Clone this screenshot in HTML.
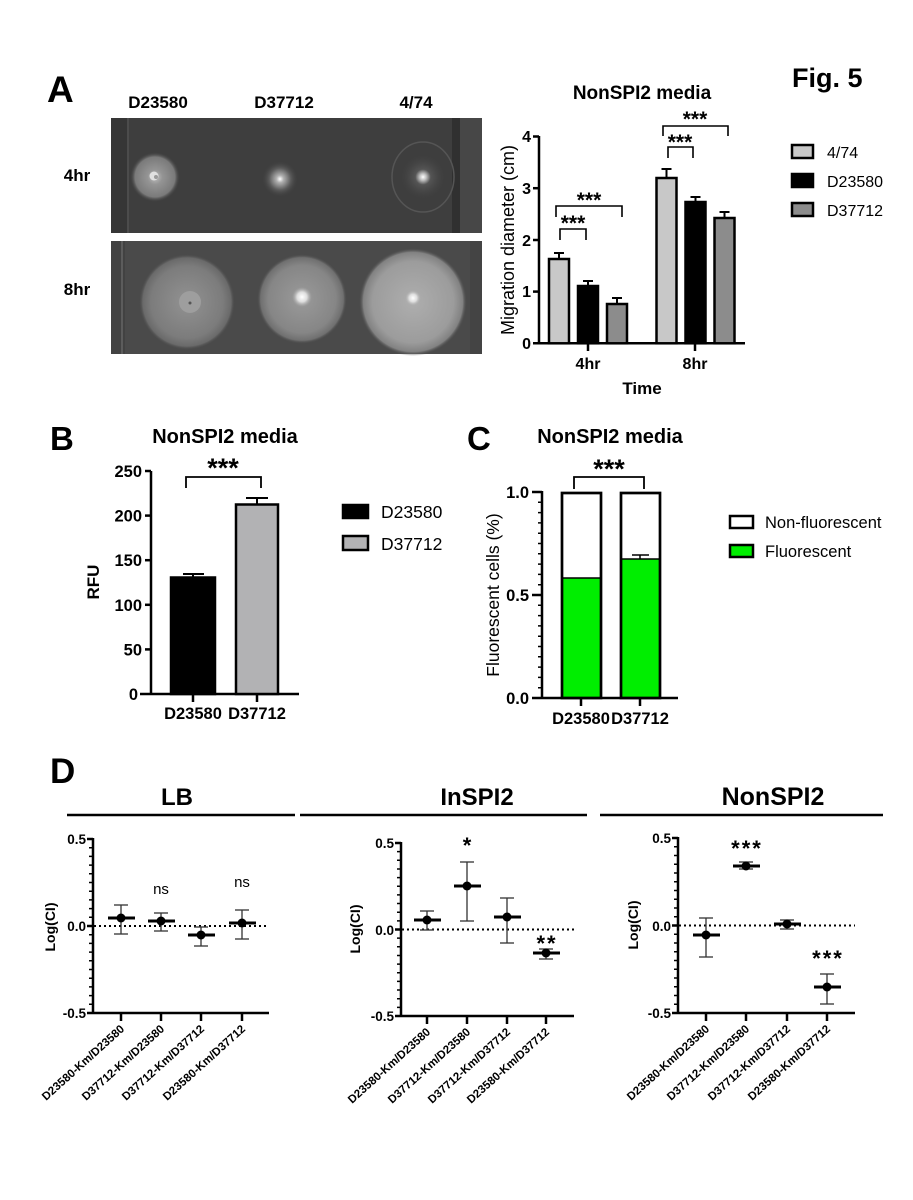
<!DOCTYPE html>
<html><head><meta charset="utf-8">
<style>
html,body{margin:0;padding:0;background:#fff;}
svg{display:block;}
text{font-family:"Liberation Sans",Arial,sans-serif;fill:#000;}
.b{font-weight:bold;}
</style></head>
<body>
<svg width="913" height="1200" viewBox="0 0 913 1200" xmlns="http://www.w3.org/2000/svg">
<defs>
  <radialGradient id="s1" cx="0.5" cy="0.5" r="0.5">
    <stop offset="0" stop-color="#c0c0c0"/><stop offset="0.3" stop-color="#949494"/><stop offset="0.8" stop-color="#7a7a7a"/><stop offset="1" stop-color="#404040" stop-opacity="0"/>
  </radialGradient>
  <radialGradient id="s2" cx="0.5" cy="0.5" r="0.5">
    <stop offset="0" stop-color="#ffffff"/><stop offset="0.2" stop-color="#b0b0b0"/><stop offset="0.6" stop-color="#5c5c5c"/><stop offset="1" stop-color="#404040" stop-opacity="0"/>
  </radialGradient>
  <radialGradient id="s3" cx="0.5" cy="0.5" r="0.5">
    <stop offset="0" stop-color="#ffffff"/><stop offset="0.15" stop-color="#c0c0c0"/><stop offset="0.35" stop-color="#555"/><stop offset="1" stop-color="#444" stop-opacity="0"/>
  </radialGradient>
  <radialGradient id="b1" cx="0.5" cy="0.5" r="0.5">
    <stop offset="0" stop-color="#929292"/><stop offset="0.75" stop-color="#7c7c7c"/><stop offset="0.92" stop-color="#6a6a6a"/><stop offset="1" stop-color="#4a4a4a" stop-opacity="0"/>
  </radialGradient>
  <radialGradient id="b2" cx="0.5" cy="0.5" r="0.5">
    <stop offset="0" stop-color="#9a9a9a"/><stop offset="0.75" stop-color="#868686"/><stop offset="0.92" stop-color="#707070"/><stop offset="1" stop-color="#4a4a4a" stop-opacity="0"/>
  </radialGradient>
  <radialGradient id="b3" cx="0.5" cy="0.5" r="0.5">
    <stop offset="0" stop-color="#aeaeae"/><stop offset="0.75" stop-color="#9c9c9c"/><stop offset="0.92" stop-color="#828282"/><stop offset="1" stop-color="#4a4a4a" stop-opacity="0"/>
  </radialGradient>
  <radialGradient id="core" cx="0.5" cy="0.5" r="0.5">
    <stop offset="0" stop-color="#ffffff"/><stop offset="0.5" stop-color="#dddddd"/><stop offset="1" stop-color="#aaaaaa" stop-opacity="0"/>
  </radialGradient>
</defs>

<!-- ================= PANEL A ================= -->
<text class="b" x="47" y="102" font-size="37">A</text>
<text class="b" x="158" y="108" font-size="17" text-anchor="middle">D23580</text>
<text class="b" x="284" y="108" font-size="17" text-anchor="middle">D37712</text>
<text class="b" x="416" y="108" font-size="17" text-anchor="middle">4/74</text>
<text class="b" x="77" y="181" font-size="17" text-anchor="middle">4hr</text>
<text class="b" x="77" y="295" font-size="17" text-anchor="middle">8hr</text>

<!-- top photo -->
<rect x="111" y="118" width="371" height="115" fill="#3e3e3e"/>
<rect x="111" y="118" width="17" height="115" fill="#363636"/>
<rect x="127" y="118" width="2" height="115" fill="#4c4c4c"/>
<rect x="452" y="118" width="8" height="115" fill="#303030"/>
<rect x="460" y="118" width="22" height="115" fill="#474747"/>
<ellipse cx="155" cy="177" rx="25" ry="25" fill="url(#s1)"/>
<circle cx="154" cy="176" r="4.5" fill="#e0e0e0"/>
<circle cx="156" cy="177" r="2" fill="#9a9a9a"/>
<circle cx="280" cy="179" r="18" fill="url(#s2)"/>
<ellipse cx="423" cy="177" rx="31" ry="35" fill="none" stroke="#555" stroke-width="1.5"/>
<circle cx="423" cy="177" r="22" fill="url(#s3)"/>

<!-- bottom photo -->
<rect x="111" y="241" width="371" height="113" fill="#4a4a4a"/>
<rect x="111" y="241" width="14" height="113" fill="#424242"/>
<rect x="121" y="241" width="2" height="113" fill="#5c5c5c"/>
<rect x="470" y="241" width="12" height="113" fill="#444"/>
<circle cx="187" cy="302" r="48" fill="url(#b1)"/>
<circle cx="190" cy="302" r="11" fill="#9e9e9e"/>
<circle cx="190" cy="303" r="1.5" fill="#555"/>
<circle cx="302" cy="299" r="45" fill="url(#b2)"/>
<circle cx="302" cy="297" r="10" fill="url(#core)"/>
<circle cx="413" cy="302" r="54" fill="url(#b3)"/>
<circle cx="413" cy="298" r="8" fill="url(#core)"/>

<!-- A chart -->
<text class="b" x="642" y="99" font-size="19" text-anchor="middle">NonSPI2 media</text>
<text class="b" x="792" y="87" font-size="27">Fig. 5</text>
<g stroke="#000" stroke-width="2.5" fill="none">
  <line x1="539" y1="136" x2="539" y2="344.5"/>
  <line x1="533" y1="343.3" x2="745" y2="343.3"/>
  <line x1="533" y1="291.6" x2="539" y2="291.6"/>
  <line x1="533" y1="240" x2="539" y2="240"/>
  <line x1="533" y1="188.2" x2="539" y2="188.2"/>
  <line x1="533" y1="136.5" x2="539" y2="136.5"/>
  <line x1="588" y1="343" x2="588" y2="351"/>
  <line x1="695" y1="343" x2="695" y2="351"/>
</g>
<g font-size="16" class="b" text-anchor="end">
  <text class="b" x="531" y="349">0</text>
  <text class="b" x="531" y="297">1</text>
  <text class="b" x="531" y="246">2</text>
  <text class="b" x="531" y="194">3</text>
  <text class="b" x="531" y="142">4</text>
</g>
<text class="b" x="588" y="369" font-size="16" text-anchor="middle">4hr</text>
<text class="b" x="695" y="369" font-size="16" text-anchor="middle">8hr</text>
<text class="b" x="642" y="394" font-size="17" text-anchor="middle">Time</text>
<text x="514" y="240" font-size="18" text-anchor="middle" transform="rotate(-90 514 240)">Migration diameter (cm)</text>

<!-- error bars A -->
<g stroke="#000" stroke-width="2">
  <line x1="559" y1="259" x2="559" y2="253"/><line x1="554" y1="253" x2="564" y2="253"/>
  <line x1="588" y1="286" x2="588" y2="281"/><line x1="583" y1="281" x2="593" y2="281"/>
  <line x1="617" y1="304" x2="617" y2="298"/><line x1="612" y1="298" x2="622" y2="298"/>
  <line x1="666.5" y1="178" x2="666.5" y2="169"/><line x1="661.5" y1="169" x2="671.5" y2="169"/>
  <line x1="695.5" y1="202" x2="695.5" y2="197"/><line x1="690.5" y1="197" x2="700.5" y2="197"/>
  <line x1="724.5" y1="218" x2="724.5" y2="212"/><line x1="719.5" y1="212" x2="729.5" y2="212"/>
</g>
<g stroke="#000" stroke-width="2.5">
  <rect x="549" y="259" width="20" height="84.3" fill="#c8c8c8"/>
  <rect x="578" y="286" width="20" height="57.3" fill="#000"/>
  <rect x="607" y="304" width="20" height="39.3" fill="#8c8c8c"/>
  <rect x="656.5" y="178" width="20" height="165.3" fill="#c8c8c8"/>
  <rect x="685.5" y="202" width="20" height="141.3" fill="#000"/>
  <rect x="714.5" y="218" width="20" height="125.3" fill="#8c8c8c"/>
</g>
<!-- brackets A -->
<g stroke="#000" stroke-width="1.6" fill="none">
  <polyline points="560,240 560,229 586,229 586,240"/>
  <polyline points="556,217 556,206 622,206 622,217"/>
  <polyline points="668,158 668,147 693,147 693,158"/>
  <polyline points="663,136 663,126 728,126 728,136"/>
</g>
<g class="b" font-size="21" text-anchor="middle">
  <text class="b" x="573" y="230">***</text>
  <text class="b" x="589" y="207">***</text>
  <text class="b" x="680" y="149">***</text>
  <text class="b" x="695" y="126">***</text>
</g>
<!-- legend A -->
<g stroke="#000" stroke-width="2.5">
  <rect x="792" y="145" width="21" height="13" fill="#c8c8c8"/>
  <rect x="792" y="174" width="21" height="13" fill="#000"/>
  <rect x="792" y="203" width="21" height="13" fill="#8c8c8c"/>
</g>
<text x="827" y="158" font-size="16">4/74</text>
<text x="827" y="187" font-size="16">D23580</text>
<text x="827" y="216" font-size="16">D37712</text>

<!-- ================= PANEL B ================= -->
<text class="b" x="50" y="450" font-size="33">B</text>
<text class="b" x="225" y="443" font-size="20" text-anchor="middle">NonSPI2 media</text>
<g stroke="#000" stroke-width="2.5" fill="none">
  <line x1="151" y1="471" x2="151" y2="695"/>
  <line x1="140" y1="694" x2="299" y2="694"/>
  <line x1="145" y1="471" x2="151" y2="471"/>
  <line x1="145" y1="515.6" x2="151" y2="515.6"/>
  <line x1="145" y1="560.2" x2="151" y2="560.2"/>
  <line x1="145" y1="604.8" x2="151" y2="604.8"/>
  <line x1="145" y1="649.4" x2="151" y2="649.4"/>
  <line x1="193" y1="694" x2="193" y2="702"/>
  <line x1="257" y1="694" x2="257" y2="702"/>
</g>
<g font-size="16.5" text-anchor="end">
  <text class="b" x="142" y="477">250</text>
  <text class="b" x="142" y="521.6">200</text>
  <text class="b" x="142" y="566.2">150</text>
  <text class="b" x="142" y="610.8">100</text>
  <text class="b" x="142" y="655.4">50</text>
  <text class="b" x="138" y="700">0</text>
</g>
<text class="b" x="99" y="582" font-size="17" text-anchor="middle" transform="rotate(-90 99 582)">RFU</text>
<g stroke="#000" stroke-width="2">
  <line x1="193" y1="577" x2="193" y2="574"/><line x1="183" y1="574" x2="204" y2="574"/>
  <line x1="257" y1="504" x2="257" y2="498"/><line x1="246" y1="498" x2="268" y2="498"/>
</g>
<g stroke="#000" stroke-width="2.5">
  <rect x="171" y="577.5" width="44" height="116.5" fill="#000"/>
  <rect x="236" y="504.5" width="42" height="189.5" fill="#b2b2b4"/>
</g>
<polyline points="186,488 186,477 261,477 261,488" stroke="#000" stroke-width="1.8" fill="none"/>
<text class="b" x="223" y="477" font-size="27" text-anchor="middle">***</text>
<text class="b" x="193" y="719" font-size="16.5" text-anchor="middle">D23580</text>
<text class="b" x="257" y="719" font-size="16.5" text-anchor="middle">D37712</text>
<g stroke="#000" stroke-width="2.5">
  <rect x="343" y="505" width="25" height="13" fill="#000"/>
  <rect x="343" y="536" width="25" height="14" fill="#b2b2b4"/>
</g>
<text x="381" y="518" font-size="17.5">D23580</text>
<text x="381" y="550" font-size="17.5">D37712</text>

<!-- ================= PANEL C ================= -->
<text class="b" x="467" y="450" font-size="33">C</text>
<text class="b" x="610" y="443" font-size="20" text-anchor="middle">NonSPI2 media</text>
<g stroke="#000" fill="none">
  <line x1="540" y1="492" x2="540" y2="698" stroke-width="4" stroke-dasharray="1.5 8.8" stroke-dashoffset="0.75"/>
  <line x1="542" y1="491" x2="542" y2="699" stroke-width="2.5"/>
  <line x1="532" y1="698" x2="678" y2="698" stroke-width="2.5"/>
  <line x1="532" y1="492" x2="542" y2="492" stroke-width="2.5"/>
  <line x1="532" y1="595" x2="542" y2="595" stroke-width="2.5"/>
  <line x1="581" y1="698" x2="581" y2="706" stroke-width="2.5"/>
  <line x1="640" y1="698" x2="640" y2="706" stroke-width="2.5"/>
</g>
<g font-size="16.5" text-anchor="end">
  <text class="b" x="529" y="498">1.0</text>
  <text class="b" x="529" y="601">0.5</text>
  <text class="b" x="529" y="704">0.0</text>
</g>
<text x="499" y="595" font-size="17.5" text-anchor="middle" transform="rotate(-90 499 595)">Fluorescent cells (%)</text>
<rect x="562" y="578" width="39" height="120" fill="#00ee00"/>
<rect x="621" y="559" width="39" height="139" fill="#00ee00"/>
<g stroke="#000" stroke-width="1.5">
  <line x1="562" y1="578" x2="601" y2="578"/>
  <line x1="621" y1="559" x2="660" y2="559"/>
  <line x1="640" y1="559" x2="640" y2="555"/><line x1="632" y1="555" x2="649" y2="555"/>
</g>
<g stroke="#000" stroke-width="2.7" fill="none">
  <rect x="562" y="493" width="39" height="205"/>
  <rect x="621" y="493" width="39" height="205"/>
</g>
<polyline points="574,489 574,477 644,477 644,489" stroke="#000" stroke-width="1.8" fill="none"/>
<text class="b" x="609" y="478" font-size="27" text-anchor="middle">***</text>
<text class="b" x="581" y="724" font-size="16.5" text-anchor="middle">D23580</text>
<text class="b" x="640" y="724" font-size="16.5" text-anchor="middle">D37712</text>
<g stroke="#000" stroke-width="2.5">
  <rect x="730" y="516" width="23" height="12" fill="#fff"/>
  <rect x="730" y="545" width="23" height="12" fill="#00ee00"/>
</g>
<text x="765" y="528" font-size="16.5">Non-fluorescent</text>
<text x="765" y="557" font-size="16.5">Fluorescent</text>

<!-- ================= PANEL D ================= -->
<text class="b" x="50" y="783" font-size="35">D</text>
<text class="b" x="177" y="805" font-size="24" text-anchor="middle">LB</text>
<text class="b" x="477" y="805" font-size="24" text-anchor="middle">InSPI2</text>
<text class="b" x="773" y="805" font-size="25" text-anchor="middle">NonSPI2</text>
<g stroke="#000" stroke-width="2.6">
  <line x1="67" y1="815" x2="295" y2="815"/>
  <line x1="300" y1="815" x2="587" y2="815"/>
  <line x1="600" y1="815" x2="883" y2="815"/>
</g>

<!-- LB axes -->
<g stroke="#000" fill="none">
  <line x1="91" y1="839" x2="91" y2="1013" stroke-width="4" stroke-dasharray="1.5 7.2" stroke-dashoffset="0.75"/>
  <line x1="93" y1="838" x2="93" y2="1014" stroke-width="2.5"/>
  <line x1="87" y1="839" x2="93" y2="839" stroke-width="2.5"/>
  <line x1="87" y1="926" x2="93" y2="926" stroke-width="2.5"/>
  <line x1="87" y1="1013" x2="269" y2="1013" stroke-width="2.5"/>
  <line x1="121" y1="1013" x2="121" y2="1021" stroke-width="2.5"/>
  <line x1="161" y1="1013" x2="161" y2="1021" stroke-width="2.5"/>
  <line x1="201" y1="1013" x2="201" y2="1021" stroke-width="2.5"/>
  <line x1="242" y1="1013" x2="242" y2="1021" stroke-width="2.5"/>
  <line x1="94" y1="926" x2="269" y2="926" stroke-width="2" stroke-dasharray="2 3"/>
</g>
<g font-size="13.5" text-anchor="end">
  <text class="b" x="86" y="844">0.5</text>
  <text class="b" x="86" y="931">0.0</text>
  <text class="b" x="86" y="1018">-0.5</text>
</g>
<text class="b" x="55" y="927" font-size="14" text-anchor="middle" transform="rotate(-90 55 927)">Log(CI)</text>
<g stroke="#333" stroke-width="1.3">
  <line x1="121" y1="905" x2="121" y2="934"/><line x1="114" y1="905" x2="128" y2="905"/><line x1="114" y1="934" x2="128" y2="934"/>
  <line x1="161" y1="913" x2="161" y2="931"/><line x1="154" y1="913" x2="168" y2="913"/><line x1="154" y1="931" x2="168" y2="931"/>
  <line x1="201" y1="927" x2="201" y2="946"/><line x1="194" y1="927" x2="208" y2="927"/><line x1="194" y1="946" x2="208" y2="946"/>
  <line x1="242" y1="910" x2="242" y2="939"/><line x1="235" y1="910" x2="249" y2="910"/><line x1="235" y1="939" x2="249" y2="939"/>
</g>
<g stroke="#000" stroke-width="3">
  <line x1="108" y1="918" x2="135" y2="918"/>
  <line x1="148" y1="921" x2="175" y2="921"/>
  <line x1="188" y1="935" x2="215" y2="935"/>
  <line x1="229" y1="923" x2="256" y2="923"/>
</g>
<g fill="#000">
  <circle cx="121" cy="918" r="4.5"/><circle cx="161" cy="921" r="4.5"/><circle cx="201" cy="935" r="4.5"/><circle cx="242" cy="923" r="4.5"/>
</g>
<text x="161" y="894" font-size="15" text-anchor="middle">ns</text>
<text x="242" y="887" font-size="15" text-anchor="middle">ns</text>
<g class="b" font-size="11.5" text-anchor="end">
  <text class="b" x="125" y="1030" transform="rotate(-42 125 1030)">D23580-Km/D23580</text>
  <text class="b" x="165" y="1030" transform="rotate(-42 165 1030)">D37712-Km/D23580</text>
  <text class="b" x="205" y="1030" transform="rotate(-42 205 1030)">D37712-Km/D37712</text>
  <text class="b" x="246" y="1030" transform="rotate(-42 246 1030)">D23580-Km/D37712</text>
</g>

<!-- InSPI2 axes -->
<g stroke="#000" fill="none">
  <line x1="399" y1="843" x2="399" y2="1016" stroke-width="4" stroke-dasharray="1.5 7.15" stroke-dashoffset="0.75"/>
  <line x1="401" y1="842" x2="401" y2="1017" stroke-width="2.5"/>
  <line x1="395" y1="843" x2="401" y2="843" stroke-width="2.5"/>
  <line x1="395" y1="929.5" x2="401" y2="929.5" stroke-width="2.5"/>
  <line x1="395" y1="1016" x2="574" y2="1016" stroke-width="2.5"/>
  <line x1="427" y1="1016" x2="427" y2="1024" stroke-width="2.5"/>
  <line x1="467" y1="1016" x2="467" y2="1024" stroke-width="2.5"/>
  <line x1="507" y1="1016" x2="507" y2="1024" stroke-width="2.5"/>
  <line x1="546" y1="1016" x2="546" y2="1024" stroke-width="2.5"/>
  <line x1="402" y1="929.5" x2="574" y2="929.5" stroke-width="2" stroke-dasharray="2 3"/>
</g>
<g font-size="13.5" text-anchor="end">
  <text class="b" x="394" y="848">0.5</text>
  <text class="b" x="394" y="935">0.0</text>
  <text class="b" x="394" y="1021">-0.5</text>
</g>
<text class="b" x="360" y="929" font-size="14" text-anchor="middle" transform="rotate(-90 360 929)">Log(CI)</text>
<g stroke="#333" stroke-width="1.3">
  <line x1="427" y1="911" x2="427" y2="930"/><line x1="420" y1="911" x2="434" y2="911"/><line x1="420" y1="930" x2="434" y2="930"/>
  <line x1="467" y1="862" x2="467" y2="921"/><line x1="460" y1="862" x2="474" y2="862"/><line x1="460" y1="921" x2="474" y2="921"/>
  <line x1="507" y1="898" x2="507" y2="943"/><line x1="500" y1="898" x2="514" y2="898"/><line x1="500" y1="943" x2="514" y2="943"/>
  <line x1="546" y1="949" x2="546" y2="959"/><line x1="539" y1="949" x2="553" y2="949"/><line x1="539" y1="959" x2="553" y2="959"/>
</g>
<g stroke="#000" stroke-width="3">
  <line x1="414" y1="920" x2="441" y2="920"/>
  <line x1="454" y1="886" x2="481" y2="886"/>
  <line x1="494" y1="917" x2="521" y2="917"/>
  <line x1="533" y1="953" x2="560" y2="953"/>
</g>
<g fill="#000">
  <circle cx="427" cy="920" r="4.5"/><circle cx="467" cy="886" r="4.5"/><circle cx="507" cy="917" r="4.5"/><circle cx="546" cy="953" r="4.5"/>
</g>
<text class="b" x="467" y="853" font-size="22" text-anchor="middle">*</text>
<text class="b" x="547" y="951" font-size="22" text-anchor="middle" letter-spacing="2">**</text>
<g class="b" font-size="11.5" text-anchor="end">
  <text class="b" x="431" y="1033" transform="rotate(-42 431 1033)">D23580-Km/D23580</text>
  <text class="b" x="471" y="1033" transform="rotate(-42 471 1033)">D37712-Km/D23580</text>
  <text class="b" x="511" y="1033" transform="rotate(-42 511 1033)">D37712-Km/D37712</text>
  <text class="b" x="550" y="1033" transform="rotate(-42 550 1033)">D23580-Km/D37712</text>
</g>

<!-- NonSPI2 axes -->
<g stroke="#000" fill="none">
  <line x1="676" y1="838" x2="676" y2="1013" stroke-width="4" stroke-dasharray="1.5 7.25" stroke-dashoffset="0.75"/>
  <line x1="678" y1="837" x2="678" y2="1014" stroke-width="2.5"/>
  <line x1="672" y1="838" x2="678" y2="838" stroke-width="2.5"/>
  <line x1="672" y1="925.5" x2="678" y2="925.5" stroke-width="2.5"/>
  <line x1="672" y1="1013" x2="855" y2="1013" stroke-width="2.5"/>
  <line x1="706" y1="1013" x2="706" y2="1021" stroke-width="2.5"/>
  <line x1="746" y1="1013" x2="746" y2="1021" stroke-width="2.5"/>
  <line x1="787" y1="1013" x2="787" y2="1021" stroke-width="2.5"/>
  <line x1="827" y1="1013" x2="827" y2="1021" stroke-width="2.5"/>
  <line x1="679" y1="925.5" x2="855" y2="925.5" stroke-width="2" stroke-dasharray="2 3"/>
</g>
<g font-size="13.5" text-anchor="end">
  <text class="b" x="671" y="843">0.5</text>
  <text class="b" x="671" y="931">0.0</text>
  <text class="b" x="671" y="1018">-0.5</text>
</g>
<text class="b" x="638" y="925" font-size="14" text-anchor="middle" transform="rotate(-90 638 925)">Log(CI)</text>
<g stroke="#333" stroke-width="1.3">
  <line x1="706" y1="918" x2="706" y2="957"/><line x1="699" y1="918" x2="713" y2="918"/><line x1="699" y1="957" x2="713" y2="957"/>
  <line x1="746" y1="862" x2="746" y2="869"/><line x1="739" y1="862" x2="753" y2="862"/><line x1="739" y1="869" x2="753" y2="869"/>
  <line x1="787" y1="920" x2="787" y2="929"/><line x1="780" y1="920" x2="794" y2="920"/><line x1="780" y1="929" x2="794" y2="929"/>
  <line x1="827" y1="974" x2="827" y2="1004"/><line x1="820" y1="974" x2="834" y2="974"/><line x1="820" y1="1004" x2="834" y2="1004"/>
</g>
<g stroke="#000" stroke-width="3">
  <line x1="693" y1="935" x2="720" y2="935"/>
  <line x1="733" y1="866" x2="760" y2="866"/>
  <line x1="774" y1="924" x2="801" y2="924"/>
  <line x1="814" y1="987" x2="841" y2="987"/>
</g>
<g fill="#000">
  <circle cx="706" cy="935" r="4.5"/><circle cx="746" cy="866" r="4.5"/><circle cx="787" cy="924" r="4.5"/><circle cx="827" cy="987" r="4.5"/>
</g>
<text class="b" x="747" y="856" font-size="22" text-anchor="middle" letter-spacing="2">***</text>
<text class="b" x="828" y="966" font-size="22" text-anchor="middle" letter-spacing="2">***</text>
<g class="b" font-size="11.5" text-anchor="end">
  <text class="b" x="710" y="1030" transform="rotate(-42 710 1030)">D23580-Km/D23580</text>
  <text class="b" x="750" y="1030" transform="rotate(-42 750 1030)">D37712-Km/D23580</text>
  <text class="b" x="791" y="1030" transform="rotate(-42 791 1030)">D37712-Km/D37712</text>
  <text class="b" x="831" y="1030" transform="rotate(-42 831 1030)">D23580-Km/D37712</text>
</g>
</svg>
</body></html>
